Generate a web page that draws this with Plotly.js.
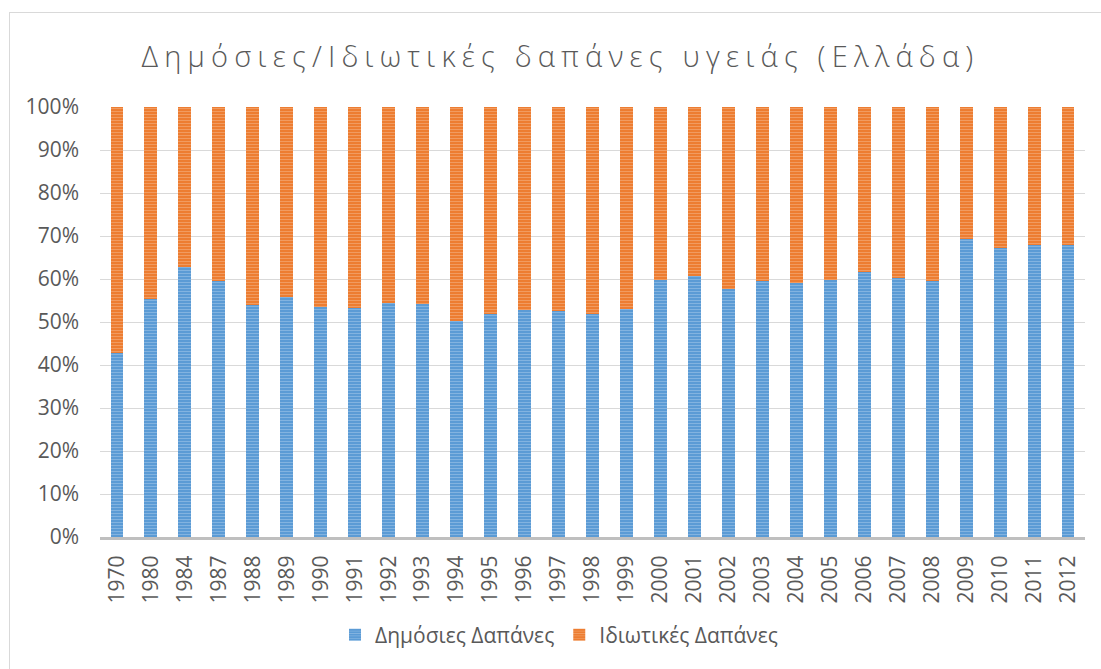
<!DOCTYPE html>
<html>
<head>
<meta charset="utf-8">
<script src="https://cdn.plot.ly/plotly-3.0.1.min.js"></script>
<style>
html,body{margin:0;padding:0;background:#fff;}
#wrap{position:relative;width:1101px;height:669px;}
#chart{position:absolute;left:0;top:0;width:1101px;height:669px;}
#frame{position:absolute;left:9px;top:12px;width:1100px;height:670px;border:1px solid #d9d9d9;pointer-events:none;}
.gtitle{letter-spacing:6.2px;}
</style>
</head>
<body>
<div id="wrap">
<div id="chart"></div>
<div id="frame"></div>
</div>
<script>
const years = ["1970","1980","1984","1987","1988","1989","1990","1991","1992","1993","1994","1995","1996","1997","1998","1999","2000","2001","2002","2003","2004","2005","2006","2007","2008","2009","2010","2011","2012"];
const publicSpending = [42.7,55.3,62.7,59.6,53.9,55.7,53.4,53.2,54.4,54.3,50.2,51.9,52.7,52.6,51.9,53.1,59.8,60.7,57.7,59.6,59.0,59.8,61.6,60.2,59.6,69.2,67.3,67.9,67.9];
const privateSpending = [57.3,44.7,37.3,40.4,46.1,44.3,46.6,46.8,45.6,45.7,49.8,48.1,47.3,47.4,48.1,46.9,40.2,39.3,42.3,40.4,41.0,40.2,38.4,39.8,40.4,30.8,32.7,32.1,32.1];
const seriesNames = ["Δημόσιες Δαπάνες","Ιδιωτικές Δαπάνες"];
const titleText = "Δημόσιες/Ιδιωτικές δαπάνες υγειάς (Ελλάδα)";

const font = "'Open Sans', 'Noto Sans', sans-serif";
const traces = [
  {type:'bar', x:years, y:publicSpending, name:seriesNames[0],
   marker:{color:'#5b9bd5', line:{width:0},
     pattern:{shape:'-', bgcolor:'#5b9bd5', fgcolor:'#a9cbec', size:3, solidity:0.35, fillmode:'overlay'}},
   hovertemplate:'%{x}: %{y}%<extra></extra>'},
  {type:'bar', x:years, y:privateSpending, name:seriesNames[1],
   marker:{color:'#ed7d31', line:{width:0},
     pattern:{shape:'-', bgcolor:'#ed7d31', fgcolor:'#f6b98f', size:3, solidity:0.35, fillmode:'overlay'}},
   hovertemplate:'%{x}: %{y}%<extra></extra>'}
];
const layout = {
  width:1101, height:669,
  margin:{l:100, r:16, t:107, b:132},
  paper_bgcolor:'#ffffff', plot_bgcolor:'#ffffff',
  barmode:'stack', bargap:0.62,
  font:{family:font, color:'#595959', size:21},
  title:{text:titleText, x:0.509, xanchor:'center', y:0.915, yanchor:'middle',
         font:{family:font, size:29, color:'#595959', weight:300}},
  xaxis:{type:'category', tickangle:-90, showgrid:false, showline:true, linecolor:'#bfbfbf', linewidth:3,
         ticks:'', ticklabelstandoff:7, tickfont:{size:21, color:'#595959'}, fixedrange:true},
  yaxis:{range:[0,100], dtick:10, ticksuffix:'%', showgrid:true, gridcolor:'#d9d9d9', gridwidth:1,
         zeroline:false, showline:false, ticks:'', ticklabelstandoff:20, tickfont:{size:21, color:'#595959'}, fixedrange:true},
  showlegend:true,
  legend:{orientation:'h', x:0.466, xanchor:'center', y:-0.228, yanchor:'middle',
          font:{size:21, color:'#595959'}, itemwidth:30, traceorder:'normal'}
};
Plotly.newPlot('chart', traces, layout, {displayModeBar:false, staticPlot:true});
</script>
</body>
</html>
